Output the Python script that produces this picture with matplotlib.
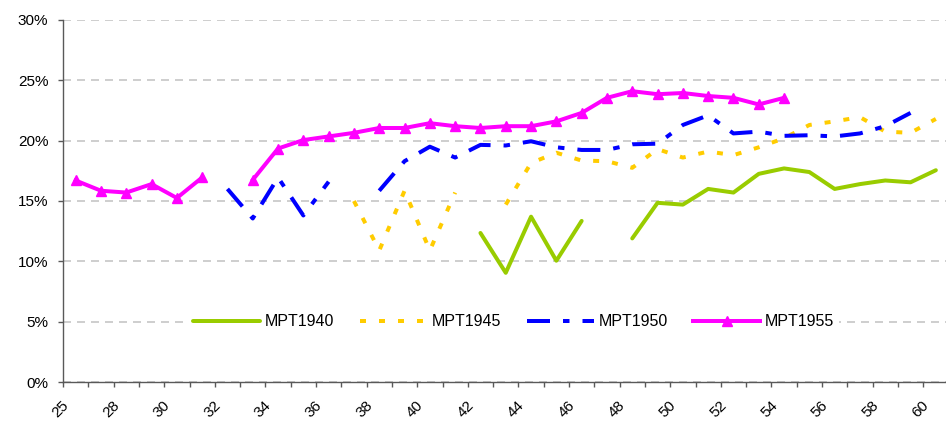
import numpy as np
import matplotlib
matplotlib.use("Agg")
import matplotlib.pyplot as plt
from matplotlib.ticker import FixedLocator, FuncFormatter
from matplotlib.transforms import ScaledTranslation

plt.rcParams['font.family'] = ['Liberation Sans', 'DejaVu Sans']
plt.rcParams['lines.scale_dashes'] = False

nan = np.nan
categories = [25, 27, 28, 29, 30, 31, 32, 33, 34, 35, 36, 37, 38, 39, 40, 41, 42, 43,
              44, 45, 46, 47, 48, 49, 50, 51, 52, 53, 54, 55, 56, 57, 58, 59, 60]

mpt1940 = [nan, nan, nan, nan, nan, nan, nan, nan, nan, nan, nan, nan, nan, nan, nan, nan,
           12.35, 9.05, 13.7, 10.05, 13.35, nan, 11.9, 14.85, 14.7, 16.0, 15.7, 17.25,
           17.7, 17.4, 16.0, 16.4, 16.7, 16.55, 17.55]
mpt1945 = [nan, nan, nan, nan, nan, nan, nan, nan, nan, nan, nan,
           15.0, 10.9, 15.85, 10.9, 15.7, nan, 14.7, 18.15, 19.0, 18.35, 18.3, 17.75,
           19.3, 18.6, 19.1, 18.8, 19.45, 20.2, 21.3, 21.6, 21.95, 20.75, 20.65, 21.8]
mpt1950 = [nan, nan, nan, nan, nan, nan,
           16.0, 13.55, 16.95, 13.8, 16.6, nan, 15.85, 18.3, 19.5, 18.6, 19.65, 19.6,
           19.95, 19.45, 19.23, 19.23, 19.7, 19.75, 21.3, 22.1, 20.6, 20.75, 20.4, 20.45,
           20.35, 20.6, 21.2, 22.3, nan]
mpt1955 = [16.7, 15.85, 15.7, 16.4, 15.25, 16.95, nan, 16.75, 19.35, 20.05, 20.35,
           20.65, 21.05, 21.05, 21.45, 21.2, 21.05, 21.2, 21.2, 21.6, 22.3, 23.55, 24.1,
           23.85, 23.95, 23.7, 23.55, 23.0, 23.55, nan, nan, nan, nan, nan, nan]
series_names = ["MPT1940", "MPT1945", "MPT1950", "MPT1955"]
y_ticks = [0, 5, 10, 15, 20, 25, 30]

px = 0.72  # points per pixel at dpi 100

fig = plt.figure(figsize=(9.46, 4.26), dpi=100)
ax = fig.add_axes([63 / 946, 44 / 426, 885.5 / 946, 362 / 426])

x = np.arange(len(categories))
lw = 4 * px
ax.plot(x, mpt1940, color='#99CC00', lw=lw, solid_capstyle='round',
        solid_joinstyle='round', label=series_names[0])
ax.plot(x, mpt1945, color='#FFCC00', lw=lw,
        linestyle=(0, (6 * px, 13 * px)), dash_capstyle='butt', label=series_names[1])
ax.plot(x, mpt1950, color='#0000FF', lw=lw,
        linestyle=(0, (23 * px, 13 * px, 6.5 * px, 13 * px)), dash_capstyle='butt',
        label=series_names[2])
ax.plot(x, mpt1955, color='#FF00FF', lw=lw, marker='^', markersize=7,
        solid_joinstyle='round', label=series_names[3])

ax.set_xlim(-0.5, len(categories) - 0.5)
ax.set_ylim(0, 30)

ax.set_yticks(y_ticks)
ax.yaxis.set_major_formatter(FuncFormatter(lambda v, p: f"{v:.0f}%"))
ax.grid(axis='y', color='#C0C0C0', lw=1.5 * px, linestyle=(0, (8 * px, 6 * px)))
ax.set_axisbelow(True)

# x ticks: marks at category boundaries, labels on every other category
ax.xaxis.set_major_locator(FixedLocator(np.arange(len(categories) + 1) - 0.5))
ax.xaxis.set_major_formatter(FuncFormatter(lambda v, p: ""))
lab_idx = list(range(0, len(categories), 2))
ax.xaxis.set_minor_locator(FixedLocator(lab_idx))
ax.xaxis.set_minor_formatter(FuncFormatter(lambda v, p: str(categories[int(round(v))])))
ax.tick_params(axis='x', which='major', direction='out', length=5 * px,
               width=1, color='#595959')
ax.tick_params(axis='x', which='minor', length=0, pad=12, labelsize=11)
ax.tick_params(axis='y', direction='out', length=5 * px, width=1, color='#595959',
               pad=7, labelsize=11)
for lbl in ax.xaxis.get_minorticklabels():
    lbl.set_rotation(45)
    lbl.set_ha('right')
    lbl.set_va('top')
    lbl.set_transform(lbl.get_transform() + ScaledTranslation(-4 / 100, 0, fig.dpi_scale_trans))

for s in ['top', 'right']:
    ax.spines[s].set_visible(False)
for s in ['left', 'bottom']:
    ax.spines[s].set_color('#595959')
    ax.spines[s].set_linewidth(1)

leg = ax.legend(loc='center', bbox_to_anchor=(0.509, 5 / 30), ncol=4, frameon=True,
                fontsize=11.5, handlelength=4.2, handletextpad=0.3, columnspacing=1.6,
                numpoints=1, borderpad=0.3, borderaxespad=0)
leg.get_frame().set_facecolor('white')
leg.get_frame().set_edgecolor('none')
leg.get_frame().set_alpha(1)
leg.get_frame().set_boxstyle('square', pad=0)

fig.savefig("out.png", dpi=100)
